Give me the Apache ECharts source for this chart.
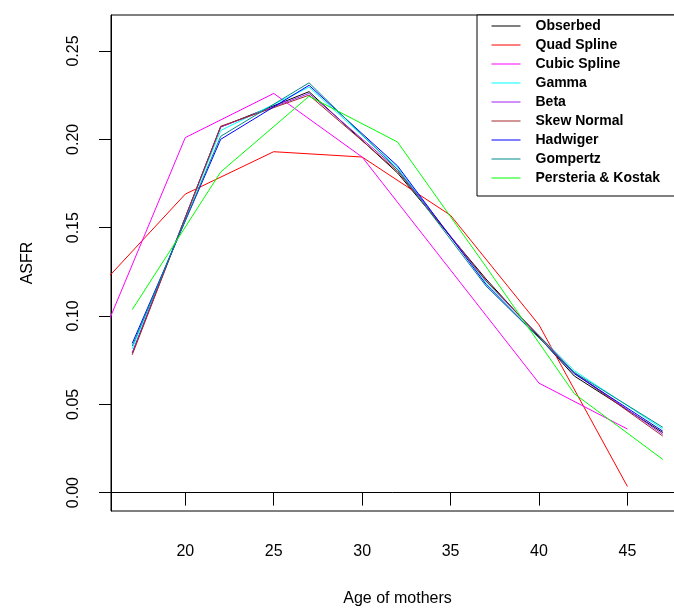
<!DOCTYPE html>
<html>
<head>
<meta charset="utf-8">
<title>ASFR</title>
<script src="https://cdn.jsdelivr.net/npm/echarts@6/dist/echarts.min.js"></script>
<style>
	html, body {
		margin: 0;
		padding: 0;
		background: #fff;
	}
	#chart {
		width: 674px;
		height: 609px;
	}
</style>
</head>
<body>
<div id="chart"></div>
<script>
// ages of the grouped data and of the spline fits
var agesGroup = [17, 22, 27, 32, 37, 42, 47];
var agesSpline = [15, 20, 25, 30, 35, 40, 45];

var observed = [0.079, 0.207, 0.227, 0.181, 0.121, 0.066, 0.034];
var quadSpline = [0.115, 0.169, 0.193, 0.190, 0.157, 0.095, 0.0035];
var cubicSpline = [0.081, 0.201, 0.226, 0.190, 0.126, 0.062, 0.036];
var gamma = [0.0815, 0.205, 0.2296, 0.184, 0.119, 0.069, 0.036];
var beta = [0.079, 0.207, 0.226, 0.183, 0.120, 0.068, 0.033];
var skewNormal = [0.078, 0.2074, 0.225, 0.182, 0.120, 0.0677, 0.032];
var hadwiger = [0.0845, 0.200, 0.2306, 0.185, 0.118, 0.0673, 0.0348];
var gompertz = [0.083, 0.2017, 0.232, 0.183, 0.117, 0.068, 0.037];
var persteriaKostak = [0.1036, 0.1815, 0.2244, 0.1985, 0.128, 0.056, 0.0188];

var xTicks = [20, 25, 30, 35, 40, 45];
var yTicks = [0, 0.05, 0.1, 0.15, 0.2, 0.25];

var font = "'Liberation Sans', Arial, Helvetica, sans-serif";

function pairs(xs, ys) {
	return xs.map(function (x, i) {
		return [x, ys[i]];
	});
}

function makeLine(name, xs, ys, color) {
	return {
		name: name,
		type: "line",
		data: pairs(xs, ys),
		symbol: "none",
		clip: true,
		lineStyle: {
			color: color,
			width: 1,
		},
		itemStyle: {
			color: color,
		},
	};
}

var series = [
	makeLine("Obserbed", agesGroup, observed, "#000000"),
	makeLine("Quad Spline", agesSpline, quadSpline, "#FF0000"),
	makeLine("Cubic Spline", agesSpline, cubicSpline, "#FF00FF"),
	makeLine("Gamma", agesGroup, gamma, "#00FFFF"),
	makeLine("Beta", agesGroup, beta, "#A020F0"),
	makeLine("Skew Normal", agesGroup, skewNormal, "#A52A2A"),
	makeLine("Hadwiger", agesGroup, hadwiger, "#0000FF"),
	makeLine("Gompertz", agesGroup, gompertz, "#008B8B"),
	makeLine("Persteria & Kostak", agesGroup, persteriaKostak, "#00FF00"),
];

var myChart = echarts.init(document.getElementById("chart"));
var option = {
	animation: false,
	backgroundColor: "#fff",
	grid: {
		left: 111,
		top: 15,
		right: -10,
		bottom: 98,
		outerBoundsMode: "none",
		show: true,
		borderColor: "#000",
		borderWidth: 1,
	},
	legend: {
		orient: "vertical",
		left: 477,
		top: 15,
		padding: [4, 24, 11, 14],
		itemWidth: 29,
		itemHeight: 14,
		itemGap: 5,
		borderColor: "#000",
		borderWidth: 1,
		backgroundColor: "#fff",
		// only the line in the key, no marker
		itemStyle: {
			opacity: 0,
		},
		lineStyle: {
			width: 1,
		},
		textStyle: {
			fontFamily: font,
			fontSize: 14,
			fontWeight: "bold",
			color: "#000",
			lineHeight: 14,
			padding: [0, 0, 0, 10],
		},
		data: series.map(function (s) {
			return s.name;
		}),
	},
	xAxis: {
		type: "value",
		min: 15.8,
		max: 48.2,
		name: "Age of mothers",
		nameLocation: "middle",
		nameGap: 80,
		nameTextStyle: {
			fontFamily: font,
			fontSize: 16,
			color: "#000",
		},
		axisLine: {
			show: true,
			lineStyle: { color: "#000" },
		},
		axisTick: {
			show: true,
			length: 13,
			customValues: xTicks,
			lineStyle: { color: "#000" },
		},
		axisLabel: {
			customValues: xTicks,
			margin: 33,
			fontFamily: font,
			fontSize: 16,
			color: "#000",
		},
		splitLine: { show: false },
	},
	yAxis: {
		type: "value",
		min: -0.0104,
		max: 0.2704,
		name: "ASFR",
		nameLocation: "middle",
		nameGap: 75,
		nameTextStyle: {
			fontFamily: font,
			fontSize: 16,
			color: "#000",
		},
		axisLine: {
			show: true,
			lineStyle: { color: "#000" },
		},
		axisTick: {
			show: true,
			length: 12,
			customValues: yTicks,
			lineStyle: { color: "#000" },
		},
		axisLabel: {
			customValues: yTicks,
			rotate: 90,
			margin: 29,
			fontFamily: font,
			fontSize: 16,
			color: "#000",
			formatter: function (v) {
				return v.toFixed(2);
			},
		},
		splitLine: { show: false },
	},
	series: series,
};
myChart.setOption(option);
</script>
</body>
</html>
